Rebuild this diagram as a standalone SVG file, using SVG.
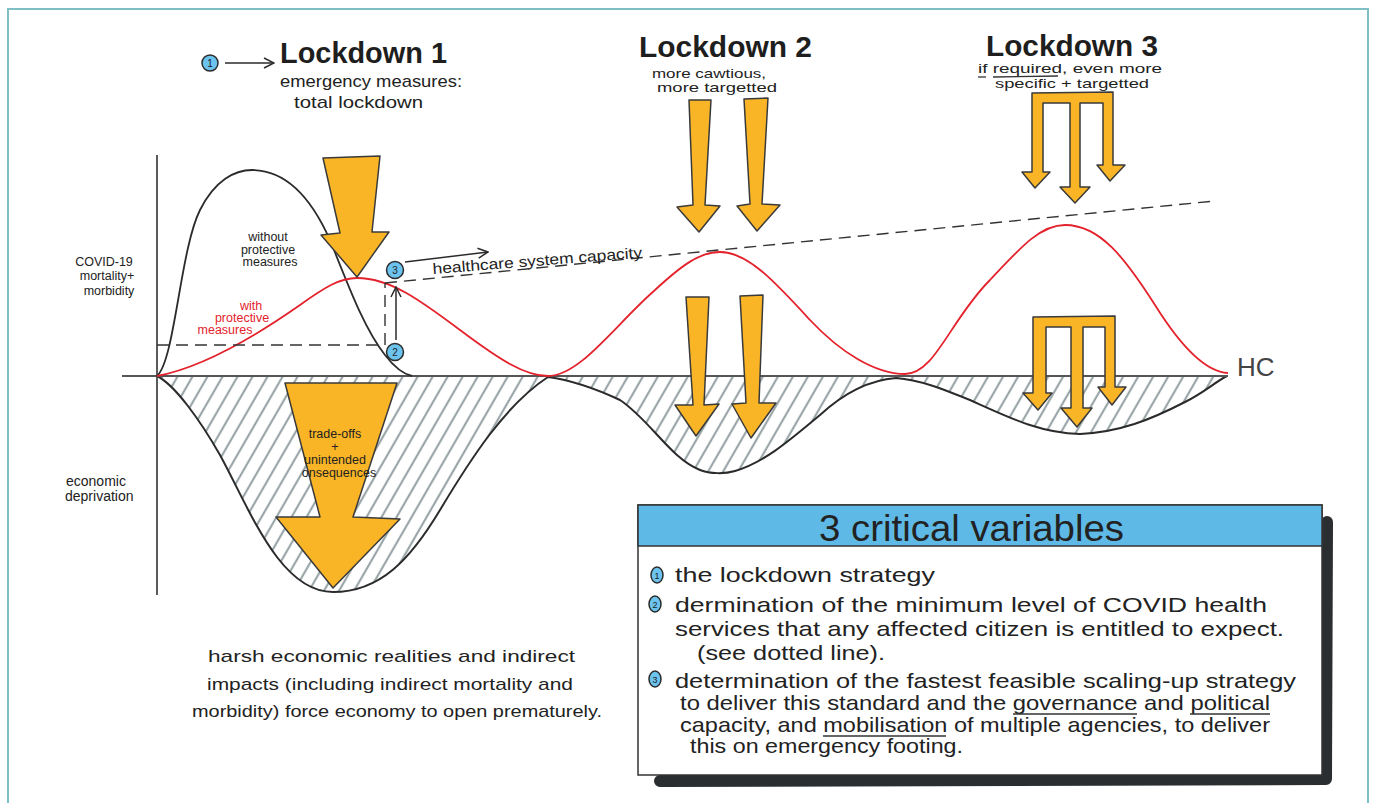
<svg xmlns="http://www.w3.org/2000/svg" width="1375" height="803" viewBox="0 0 1375 803">
<style>
text{font-family:"Liberation Sans","DejaVu Sans",sans-serif;fill:#222}
.ttl{font-size:30px;font-weight:bold;fill:#1e1e1e}
.sub{font-size:13px}
.sm{font-size:12.5px}
.body{font-size:21px}
.note{font-size:17px}
.yel{fill:#f9b526;stroke:#3a3a3a;stroke-width:1.5;stroke-linejoin:round}
.num{fill:#6cc3ee;stroke:#2b2b2b;stroke-width:1.5}
.numt{font-size:10px;text-anchor:middle;fill:#222}
.dash{fill:none;stroke:#333;stroke-width:1.4;stroke-dasharray:12 7}
.thin{fill:none;stroke:#2b2b2b;stroke-width:1.5}
</style>
<defs>
<marker id="open" viewBox="0 0 12 12" refX="11" refY="6" markerWidth="12" markerHeight="12" markerUnits="userSpaceOnUse" orient="auto">
<path d="M1,1 L11,6 L1,11" fill="none" stroke="#2b2b2b" stroke-width="1.5"/>
</marker>
<pattern id="hatch" width="13" height="13" patternUnits="userSpaceOnUse" patternTransform="rotate(30)">
<line x1="4" y1="0" x2="4" y2="13" stroke="#9aa6a9" stroke-width="2.2"/>
</pattern>
</defs>
<rect x="0" y="0" width="1375" height="803" fill="#fff"/>
<rect x="8" y="9" width="1360" height="830" fill="none" stroke="#7dbfc3" stroke-width="2"/>

<g id="chart">
<path d="M157,376 C175,385 200,420 220,455 C250,510 280,592 333,592 C380,592 410,560 440,510 C470,460 505,405 548,377 C570,380 590,386 620,400 C650,420 670,458 700,470 C710,474 725,474 735,471 C765,462 790,440 820,415 C845,392 870,380 896,378 C920,380 940,388 970,400 C1010,418 1040,433 1080,434 C1120,432 1150,420 1185,402 C1205,392 1215,382 1227,376 Z" fill="url(#hatch)" stroke="#2b2b2b" stroke-width="2"/>
<line x1="122" y1="376" x2="1228" y2="376" stroke="#555" stroke-width="2.2"/>
<line x1="157" y1="155" x2="157" y2="595" stroke="#333" stroke-width="1.6"/>
<path d="M157,376 C175,360 180,250 200,210 C215,180 235,170 252,170 C285,170 310,195 330,240 C350,290 365,330 385,355 C395,368 403,374 412,376" fill="none" stroke="#2b2b2b" stroke-width="1.8"/>
<path d="M157,376 C200,368 250,340 300,305 C325,287 340,278 357,278 C390,278 420,300 460,330 C500,360 525,376 548,376 C580,376 615,325 655,290 C682,265 700,252 720,252 C748,252 775,282 810,320 C840,352 875,374 905,374 C935,374 950,320 990,280 C1020,248 1040,225 1065,225 C1100,225 1125,258 1155,305 C1180,345 1205,372 1228,373" fill="none" stroke="#e3222c" stroke-width="1.8"/>
<path class="dash" d="M157,345 L385,345 L385,283"/>
<path class="dash" d="M385,283 L1215,201"/>
<text x="1237" y="376" style="font-size:26px;fill:#444">HC</text>
<text class="sm" text-anchor="middle"><tspan x="268" y="241">without</tspan><tspan x="268" y="254">protective</tspan><tspan x="270" y="266">measures</tspan></text>
<text class="sm" text-anchor="middle" style="fill:#e3222c"><tspan x="251" y="310">with</tspan><tspan x="242" y="322">protective</tspan><tspan x="225" y="334">measures</tspan></text>
<text x="433" y="274" style="font-size:15px" transform="rotate(-4.5 433 274)" textLength="210" lengthAdjust="spacingAndGlyphs">healthcare system capacity</text>
</g>

<g id="axis-labels">
<text class="sm" text-anchor="middle"><tspan x="104" y="266">COVID-19</tspan><tspan x="107" y="280">mortality+</tspan><tspan x="109" y="295">morbidity</tspan></text>
<text style="font-size:14px"><tspan x="66" y="486">economic</tspan><tspan x="65" y="501">deprivation</tspan></text>
</g>

<g id="lockdown1">
<circle class="num" cx="210" cy="63" r="8"/>
<text class="numt" x="210" y="67">1</text>
<text class="ttl" x="280" y="63" textLength="167" lengthAdjust="spacingAndGlyphs">Lockdown 1</text>
<text x="280" y="87" textLength="182" lengthAdjust="spacingAndGlyphs" style="font-size:17px">emergency measures:</text>
<text x="294" y="108" textLength="129" lengthAdjust="spacingAndGlyphs" style="font-size:17px">total lockdown</text>
<polygon class="yel" points="323,158 380,156 372,232 389,232 357,277 321,235 340,233"/>
</g>

<g id="lockdown2">
<text class="ttl" x="639" y="57" textLength="173" lengthAdjust="spacingAndGlyphs">Lockdown 2</text>
<text class="sub" x="652" y="78" textLength="114" lengthAdjust="spacingAndGlyphs">more cawtious,</text>
<text class="sub" x="657" y="92" textLength="120" lengthAdjust="spacingAndGlyphs">more targetted</text>
<polygon class="yel" points="689,100 711,100 705,205 720,206 699,232 677,207 693,205"/>
<polygon class="yel" points="744,99 768,98 762,204 780,205 757,231 737,206 750,204"/>
<polygon class="yel" points="686,297 709,297 704,405 719,404 696,436 675,405 693,405"/>
<polygon class="yel" points="740,296 763,295 759,403 776,403 751,438 732,404 746,403"/>
</g>

<g id="lockdown3">
<text class="ttl" x="986" y="56" textLength="172" lengthAdjust="spacingAndGlyphs">Lockdown 3</text>
<text class="sub" x="978" y="73" textLength="184" lengthAdjust="spacingAndGlyphs">if required, even more</text>
<line x1="978" y1="77" x2="986" y2="77" stroke="#333" stroke-width="1.3"/>
<line x1="993" y1="77" x2="1058" y2="76" stroke="#333" stroke-width="1.3"/>
<text class="sub" x="995" y="88" textLength="154" lengthAdjust="spacingAndGlyphs">specific + targetted</text>
<polygon class="yel" points="1032,93 1113,92 1113,165 1125,165 1110,181 1097,165 1103,165 1103,103 1080,103 1080,187 1090,187 1075,203 1060,187 1070,187 1070,103 1043,103 1043,172 1050,172 1035,188 1022,172 1032,172"/>
<polygon class="yel" points="1033,317 1115,316 1115,387 1126,387 1112,405 1098,387 1105,387 1105,327 1083,327 1083,408 1092,408 1077,427 1061,408 1071,408 1071,327 1046,327 1046,393 1052,393 1038,410 1023,393 1033,393"/>
</g>

<g id="tradeoffs">
<polygon class="yel" points="285,383 397,383 353,517 400,519 333,588 276,517 320,517"/>
<text class="sm" text-anchor="middle"><tspan x="335" y="438">trade-offs</tspan><tspan x="335" y="451">+</tspan><tspan x="335" y="464">unintended</tspan><tspan x="339" y="477">onsequences</tspan></text>
</g>

<g id="markers">
<circle class="num" cx="395" cy="270" r="8.5"/>
<text class="numt" x="395" y="274">3</text>
<circle class="num" cx="395" cy="352" r="8.5"/>
<text class="numt" x="395" y="356">2</text>
</g>

<g id="connectors">
<line class="thin" x1="225" y1="63" x2="274" y2="63" marker-end="url(#open)"/>
<line class="thin" x1="405" y1="262" x2="488" y2="252" marker-end="url(#open)"/>
<line class="thin" x1="396" y1="340" x2="396" y2="287" marker-end="url(#open)"/>
</g>

<g id="note">
<text class="note" x="208" y="662" textLength="367" lengthAdjust="spacingAndGlyphs">harsh economic realities and indirect</text>
<text class="note" x="207" y="690" textLength="366" lengthAdjust="spacingAndGlyphs">impacts (including indirect mortality and</text>
<text class="note" x="192" y="717" textLength="410" lengthAdjust="spacingAndGlyphs">morbidity) force economy to open prematurely.</text>
</g>

<g id="variables-box">
<path d="M660,781 L1326,779 L1327,522" fill="none" stroke="#2a2e30" stroke-width="12" stroke-linecap="round" stroke-linejoin="round"/>
<rect x="638" y="505" width="684" height="270" fill="#fff" stroke="#333" stroke-width="1.5"/>
<rect x="638" y="505" width="684" height="41" fill="#5fb9e6" stroke="#333" stroke-width="1.5"/>
<text x="819" y="541" style="font-size:36px;fill:#222" textLength="305" lengthAdjust="spacingAndGlyphs">3 critical variables</text>
<ellipse class="num" cx="657" cy="575" rx="6" ry="8"/>
<text class="numt" x="657" y="579" style="font-size:9px">1</text>
<ellipse class="num" cx="655" cy="604" rx="6" ry="8"/>
<text class="numt" x="655" y="608" style="font-size:9px">2</text>
<ellipse class="num" cx="655" cy="679" rx="6" ry="8"/>
<text class="numt" x="655" y="683" style="font-size:9px">3</text>
<text class="body" x="675" y="582" textLength="260" lengthAdjust="spacingAndGlyphs">the lockdown strategy</text>
<text class="body" x="675" y="612" textLength="592" lengthAdjust="spacingAndGlyphs">dermination of the minimum level of COVID health</text>
<text class="body" x="675" y="636" textLength="609" lengthAdjust="spacingAndGlyphs">services that any affected citizen is entitled to expect.</text>
<text class="body" x="697" y="660" textLength="188" lengthAdjust="spacingAndGlyphs">(see dotted line).</text>
<text class="body" x="675" y="688" textLength="621" lengthAdjust="spacingAndGlyphs">determination of the fastest feasible scaling-up strategy</text>
<text class="body" x="680" y="710" textLength="590" lengthAdjust="spacingAndGlyphs">to deliver this standard and the governance and political</text>
<text class="body" x="680" y="732" textLength="590" lengthAdjust="spacingAndGlyphs">capacity, and mobilisation of multiple agencies, to deliver</text>
<text class="body" x="690" y="753" textLength="273" lengthAdjust="spacingAndGlyphs">this on emergency footing.</text>
<g stroke="#333" stroke-width="1.3">
<line x1="1013" y1="714" x2="1137" y2="714"/>
<line x1="1190" y1="714" x2="1270" y2="714"/>
<line x1="823" y1="736" x2="946" y2="736"/>
</g>
</g>
</svg>
